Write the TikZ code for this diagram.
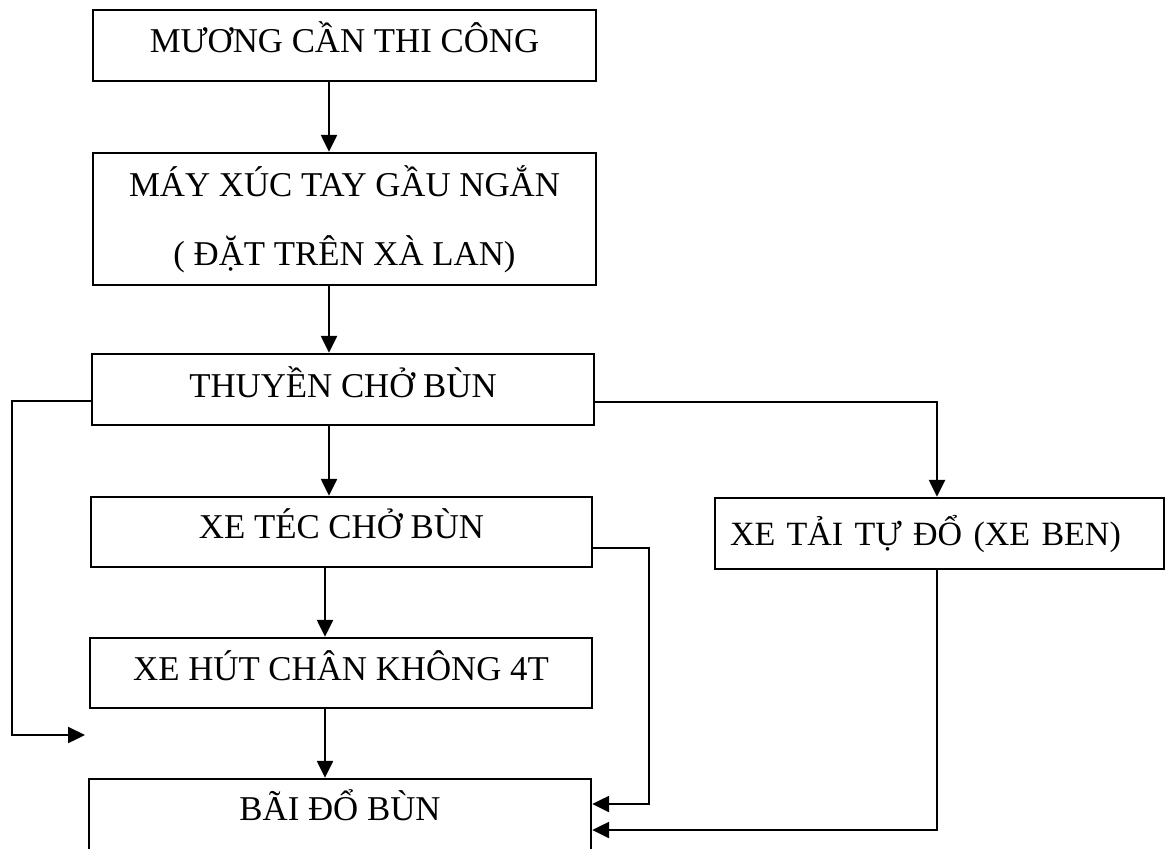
\documentclass[tikz,border=0pt]{standalone}
\usepackage{fontspec}
\setmainfont{Liberation Serif}
\usetikzlibrary{arrows.meta}
\begin{document}
\begin{tikzpicture}[x=0.5pt,y=-0.5pt,
  box/.style={draw,line width=1.2pt,rectangle,inner sep=0pt,
    font=\fontsize{17.4}{34.5}\selectfont,text height=12pt,text depth=5pt,
    minimum width=251pt,minimum height=35.5pt},
  arr/.style={line width=1.2pt,-{Triangle[length=8.5pt,width=8pt]}}]
\useasboundingbox (0,0) rectangle (1168,848);
\clip (0,0) rectangle (1168,848);
\node[box,minimum width=251.5pt,text depth=5.5pt] (b1) at (344.5,45.5) {MƯƠNG CẦN THI CÔNG};
\node[box,minimum width=251.5pt,minimum height=66pt,align=center,text height=,text depth=] (b2) at (344.5,219) {MÁY XÚC TAY GẦU NGẮN\\( ĐẶT TRÊN XÀ LAN)};
\node[box,text depth=4.5pt] (b3) at (343,389.5) {THUYỀN CHỞ BÙN};
\node[box,minimum width=250.5pt,minimum height=35pt,text depth=6pt] (b4) at (341.5,532) {XE TÉC CHỞ BÙN};
\node[box,minimum height=35pt] (b5) at (341,673) {XE HÚT CHÂN KHÔNG 4T};
\node[box,minimum height=50.5pt,text depth=21.5pt] (b6) at (340,829.5) {BÃI ĐỔ BÙN};
\node[box,font=\fontsize{17}{34.5}\selectfont,minimum width=0pt,text width=209.5pt,inner xsep=7.5pt,align=left,text depth=0.5pt] (b7) at (939.5,533.5) {XE TẢI TỰ ĐỔ (XE BEN)};
% x positions of the vertical arrows
\coordinate (xa) at (329,0);
\coordinate (xb) at (325,0);
\draw[arr] (b1.south -| xa) -- (b2.north -| xa);
\draw[arr] (b2.south -| xa) -- (b3.north -| xa);
\draw[arr] (b3.south -| xa) -- (b4.north -| xa);
\draw[arr] (b4.south -| xb) -- (b5.north -| xb);
\draw[arr] (b5.south -| xb) -- (b6.north -| xb);
% left bypass
\coordinate (L1) at (12,401);
\coordinate (L2) at (12,735);
\coordinate (Lend) at (85,735);
\draw[arr] (b3.west |- L1) -- (L1) -- (L2) -- (Lend);
% right branch to dump truck
\coordinate (R1) at (937,402);
\draw[arr] (b3.east |- R1) -- (R1) -- (R1 |- b7.north);
% tanker to dump site
\coordinate (S1) at (649,548);
\coordinate (S2) at (649,804);
\draw[arr] (b4.east |- S1) -- (S1) -- (S2) -- (S2 -| b6.east);
% dump truck to dump site
\coordinate (T1) at (937,830);
\draw[arr] (b7.south -| T1) -- (T1) -- (T1 -| b6.east);
\end{tikzpicture}
\end{document}
